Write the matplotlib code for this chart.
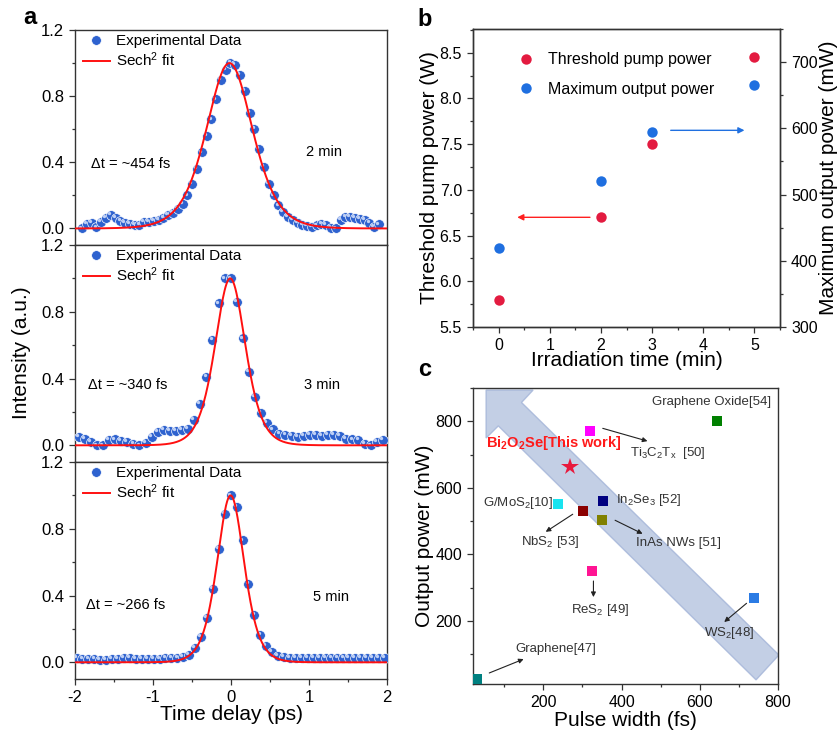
import numpy as np
import matplotlib
matplotlib.use("Agg")
import matplotlib.pyplot as plt
from matplotlib.patches import Polygon
from matplotlib.ticker import MultipleLocator
from matplotlib.transforms import ScaledTranslation

plt.rcParams["font.family"] = ["Liberation Sans", "DejaVu Sans"]
plt.rcParams["mathtext.fontset"] = "custom"
plt.rcParams["mathtext.rm"] = "Liberation Sans"
plt.rcParams["mathtext.it"] = "Liberation Sans:italic"
plt.rcParams["mathtext.bf"] = "Liberation Sans:bold"
plt.rcParams["mathtext.default"] = "regular"
plt.rcParams["axes.unicode_minus"] = False

# ---- panel a: autocorrelation traces
durations = ["2 min", "3 min", "5 min"]
pulse_texts = ["Δt = ~454 fs", "Δt = ~340 fs", "Δt = ~266 fs"]
delay_start = [-1.91, -1.954, -1.98]
delay_step = [0.0614, 0.078, 0.076]
ac_2min = [0.0, 0.026, 0.032, 0.006, 0.04, 0.066, 0.08, 0.066, 0.046, 0.032, 0.026,
           0.02, 0.02, 0.04, 0.04, 0.046, 0.052, 0.066, 0.08, 0.096, 0.116,
           0.15, 0.20, 0.27, 0.36, 0.46, 0.56, 0.66, 0.78, 0.90, 0.96, 1.0, 0.99,
           0.93, 0.83, 0.70, 0.60, 0.48, 0.37, 0.27, 0.20,
           0.14, 0.10, 0.07, 0.052, 0.035, 0.022, 0.016, 0.008, 0.018, 0.026, 0.02,
           0.005, 0.0, 0.05, 0.07, 0.072, 0.066, 0.056, 0.05, 0.035, 0.008, 0.025]
ac_3min = [0.05, 0.04, 0.02, 0.0, 0.0, 0.03, 0.035, 0.025, 0.02, 0.01, 0.0, 0.015,
           0.05, 0.08, 0.09, 0.085, 0.085, 0.09, 0.10, 0.15, 0.25, 0.41, 0.63, 0.85,
           1.0, 1.0,
           0.86, 0.64, 0.44, 0.29, 0.195, 0.135, 0.095, 0.07, 0.064, 0.055, 0.05,
           0.055, 0.06, 0.06, 0.058, 0.06, 0.062, 0.055, 0.04, 0.035, 0.03, 0.01,
           0.0, 0.02, 0.03]
ac_5min = [0.025, 0.022, 0.02, 0.018, 0.016, 0.016, 0.018, 0.022, 0.025, 0.024,
           0.022, 0.02, 0.02, 0.022, 0.022, 0.024, 0.025, 0.027, 0.03, 0.045,
           0.085, 0.15, 0.265, 0.44, 0.68, 0.89, 1.0, 0.93, 0.73, 0.47, 0.285,
           0.165, 0.10, 0.06, 0.04, 0.032,
           0.028, 0.026, 0.025, 0.024, 0.024, 0.025, 0.025, 0.024, 0.025, 0.026,
           0.026, 0.025, 0.025, 0.026, 0.026, 0.025, 0.026]
ac_traces = [ac_2min, ac_3min, ac_5min]
# sech^2 fit parameters (autocorrelation FWHM, ps)
fit_center = [-0.02, -0.01, -0.005]
fit_fwhm = [0.70, 0.46, 0.41]

# ---- panel b
irr_time = [0, 2, 3, 5]
threshold_w = [5.8, 6.7, 7.5, 8.45]
max_output_mw = [420, 520, 595, 665]

# ---- panel c
materials = ["Graphene[47]", "G/MoS$_2$[10]", "NbS$_2$ [53]", "In$_2$Se$_3$ [52]",
             "InAs NWs [51]", "Ti$_3$C$_2$T$_x$  [50]", "ReS$_2$ [49]",
             "Graphene Oxide[54]", "WS$_2$[48]"]
pulse_fs = [31, 238, 302, 353, 351, 319, 324, 644, 738]
power_mw = [25, 550, 530, 560, 503, 771, 349, 800, 270]
this_work = (267, 663)

mat_colors = ["#008080", "#19e3ef", "#8b0000", "#000080", "#808000", "#ff00ff",
              "#ff1493", "#008000", "#2b7be4"]
# text position and optional arrow (start, end) per label
label_xy = [(231, 116), (135, 554), (216, 438), (470, 563), (546, 434), (519, 705),
            (346, 233), (629, 857), (674, 164)]
arrow_se = [((55, 40), (156, 88)), None, ((281, 525), (200, 463)), None,
            ((377, 506), (460, 458)), ((345, 781), (473, 738)),
            ((328, 328), (328, 263)), None, ((725, 258), (657, 191))]

W, H = 840, 731
fig = plt.figure(figsize=(W / 100, H / 100), dpi=100)


def axes_px(left, top, right, bottom):
    return fig.add_axes([left / W, 1 - bottom / H, (right - left) / W, (bottom - top) / H])


def style(ax, size):
    ax.tick_params(which="both", direction="out", labelsize=size, width=0.9,
                   color="#333333")
    ax.tick_params(which="major", length=4.5)
    ax.tick_params(which="minor", length=2.5)
    for s in ax.spines.values():
        s.set_color("#333333")
        s.set_linewidth(1.0)


blue_dot = "#2e62cf"
hl = ScaledTranslation(-1.3 / 72, 1.3 / 72, fig.dpi_scale_trans)
bounds = [(30, 245), (245, 462), (462, 679)]
for i, (top, bot) in enumerate(bounds):
    ax = axes_px(75, top, 387, bot)
    t = np.round(delay_start[i] + delay_step[i] * np.arange(len(ac_traces[i])), 4)
    tf = np.linspace(-2, 2, 600)
    fit = 1 / np.cosh(1.7627 * (tf - fit_center[i]) / fit_fwhm[i]) ** 2
    ax.plot(t, ac_traces[i], "o", ms=7, color=blue_dot, mec="white", mew=0.5,
            zorder=3, label="Experimental Data")
    ax.plot(t, ac_traces[i], "o", ms=2.4, color="#bfd0f5", mew=0, zorder=4,
            transform=ax.transData + hl)
    ax.plot(tf, fit, color="#ff1010", lw=1.4, zorder=5, label="Sech$^2$ fit")
    ax.set_xlim(-2, 2)
    ax.set_ylim(-0.1, 1.2)
    ax.set_yticks([0.0, 0.4, 0.8, 1.2])
    ax.yaxis.set_minor_locator(MultipleLocator(0.2))
    ax.xaxis.set_major_locator(MultipleLocator(1))
    ax.xaxis.set_minor_locator(MultipleLocator(0.5))
    style(ax, 12)
    if i < 2:
        ax.tick_params(axis="x", which="both", length=0, labelbottom=False)
    ax.text(delay_start[i] + 0.12, [0.39, 0.36, 0.345][i], pulse_texts[i],
            fontsize=10.5, va="center", ha="left")
    ax.text([1.19, 1.17, 1.28][i], [0.46, 0.36, 0.39][i], durations[i],
            fontsize=10.5, va="center", ha="center")
    ax.legend(loc="upper left", bbox_to_anchor=(-0.01, 1.03), frameon=False,
              fontsize=11, handlelength=1.8, handletextpad=0.4,
              labelspacing=0.15, borderaxespad=0.3)

fig.text(22 / W, 1 - 353 / H, "Intensity (a.u.)", rotation=90, ha="center",
         va="center", fontsize=15)
fig.text(231 / W, 1 - 714 / H, "Time delay (ps)", ha="center", va="center",
         fontsize=15)

# ---- panel b
red_b = "#e31b40"
blue_b = "#1f6fe0"
axb = axes_px(473, 29, 780, 327)
axb2 = axb.twinx()
axb.plot(irr_time, threshold_w, "o", ms=7.5, color=red_b, mew=0,
         label="Threshold pump power", zorder=3)
axb2.plot(irr_time, max_output_mw, "o", ms=7.5, color=blue_b, mew=0, zorder=3)
axb.plot([], [], "o", ms=7.5, color=blue_b, mew=0, label="Maximum output power")
axb.set_xlim(-0.5, 5.5)
axb.set_ylim(5.5, 8.76)
axb2.set_ylim(300, 750)
axb.yaxis.set_major_locator(MultipleLocator(0.5))
axb.yaxis.set_minor_locator(MultipleLocator(0.25))
axb.xaxis.set_major_locator(MultipleLocator(1))
axb.xaxis.set_minor_locator(MultipleLocator(0.5))
axb2.yaxis.set_major_locator(MultipleLocator(100))
axb2.yaxis.set_minor_locator(MultipleLocator(50))
style(axb, 11.5)
style(axb2, 11.5)
axb.legend(loc="upper left", bbox_to_anchor=(0.1, 0.97), frameon=False,
           fontsize=11.5, handletextpad=0.9, labelspacing=0.9, handlelength=1.0)
axb.annotate("", xy=(0.31, 6.7), xytext=(1.84, 6.7),
             arrowprops=dict(arrowstyle="-|>", color="#ff2020", lw=1.0,
                             mutation_scale=9))
axb2.annotate("", xy=(4.86, 597), xytext=(3.31, 597),
              arrowprops=dict(arrowstyle="-|>", color="#2070e0", lw=1.0,
                              mutation_scale=9))
fig.text(430 / W, 1 - 178 / H, "Threshold pump power (W)", rotation=90,
         ha="center", va="center", fontsize=15)
fig.text(829 / W, 1 - 178 / H, "Maximum output power (mW)", rotation=90,
         ha="center", va="center", fontsize=15)
fig.text(626.5 / W, 1 - 361 / H, "Irradiation time (min)", ha="center",
         va="center", fontsize=15)

# ---- panel c
axc = axes_px(473, 388, 778, 684)
band = Polygon([(0.043, 0.993), (0.043, 0.831), (0.083, 0.872), (0.928, 0.014),
                (1.003, 0.098), (0.159, 0.951), (0.197, 0.993)], closed=True,
               transform=axc.transAxes, facecolor="#b4c3df", edgecolor="#a3b4d8",
               alpha=0.8, lw=1.0, zorder=1)
axc.add_patch(band)
for name, px, pw, c in zip(materials, pulse_fs, power_mw, mat_colors):
    axc.plot(px, pw, "s", ms=6.5, color=c, mew=0, zorder=3)
axc.plot(*this_work, "*", ms=13, color="#e8193c", mew=0, zorder=3)
for name, (tx, ty), se in zip(materials, label_xy, arrow_se):
    axc.text(tx, ty, name, fontsize=9.5, color="#333333", ha="center",
             va="center", zorder=4)
    if se is not None:
        axc.annotate("", xy=se[1], xytext=se[0],
                     arrowprops=dict(arrowstyle="-|>", color="#222222", lw=0.8,
                                     mutation_scale=7))
axc.text(227, 734, "Bi$_2$O$_2$Se[This work]", fontsize=10.5, color="#ff1a1a",
         fontweight="bold", ha="center", va="center", zorder=4)
axc.set_xlim(20, 800)
axc.set_ylim(10, 900)
axc.xaxis.set_major_locator(MultipleLocator(200))
axc.xaxis.set_minor_locator(MultipleLocator(100))
axc.yaxis.set_major_locator(MultipleLocator(200))
axc.yaxis.set_minor_locator(MultipleLocator(100))
style(axc, 11.5)
fig.text(425 / W, 1 - 536 / H, "Output power (mW)", rotation=90, ha="center",
         va="center", fontsize=15)
fig.text(625.5 / W, 1 - 720 / H, "Pulse width (fs)", ha="center", va="center",
         fontsize=15)

for lab, (x, y) in zip("abc", [(30, 17), (425, 19), (425, 369)]):
    fig.text(x / W, 1 - y / H, lab, fontsize=17, fontweight="bold",
             ha="center", va="center")

fig.savefig("out.png", dpi=100)
